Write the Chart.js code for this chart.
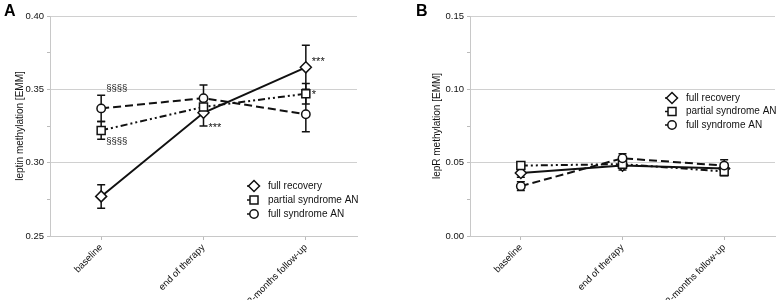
<!DOCTYPE html>
<html>
<head>
<title>Leptin / lepR methylation</title>
<script src="https://cdn.jsdelivr.net/npm/chart.js"></script>
<style>
    body { margin: 0; background: #fff; }
    .wrap { position: relative; width: 778px; height: 300px; }
    .panel { position: absolute; top: 0; width: 389px; height: 300px; }
    .tag { position: absolute; font: bold 16px "Liberation Sans", Arial, sans-serif; color: #000; }
</style>
</head>
<body>
<div class="wrap">
    <div class="panel" style="left:0"><canvas id="chartA"></canvas></div>
    <div class="panel" style="left:389px"><canvas id="chartB"></canvas></div>
    <div class="tag" style="left:4px;top:2px">A</div>
    <div class="tag" style="left:416px;top:2px">B</div>
</div>
<script>
    // time points
    const timepoints = ['baseline', 'end of therapy', '12-months follow-up'];
    const groups = ['full recovery', 'partial syndrome AN', 'full syndrome AN'];

    // panel A: leptin methylation (EMM) and error
    const leptinFull = [0.277, 0.334, 0.365];
    const leptinFullErr = [0.008, 0.009, 0.015];
    const leptinPartial = [0.322, 0.338, 0.347];
    const leptinPartialErr = [0.006, 0.004, 0.007];
    const leptinSyndrome = [0.337, 0.344, 0.333];
    const leptinSyndromeErr = [0.009, 0.009, 0.012];
    const leptinTicks = [0.25, 0.30, 0.35, 0.40];

    // panel B: lepR methylation (EMM) and error
    const leprFull = [0.043, 0.048, 0.046];
    const leprFullErr = [0.003, 0.003, 0.003];
    const leprPartial = [0.048, 0.049, 0.044];
    const leprPartialErr = [0.002, 0.002, 0.003];
    const leprSyndrome = [0.034, 0.053, 0.048];
    const leprSyndromeErr = [0.003, 0.003, 0.004];
    const leprTicks = [0.00, 0.05, 0.10, 0.15];

    // significance marks: [group index, time index, text, anchor]
    const leptinMarks = [
        [2, 0, '§§§§', 'top'],
        [1, 0, '§§§§', 'bottom'],
        [0, 1, '***', 'bottom'],
        [0, 2, '***', 'point'],
        [1, 2, '*', 'point']
    ];

    const FONT = '"Liberation Sans Narrow", "Liberation Sans", Arial, sans-serif';
    Chart.defaults.font.family = FONT;
    Chart.defaults.color = '#111';

    const styles = [
        { dash: [], shape: 'diamond' },
        { dash: [7, 3, 2, 3, 2, 3], shape: 'square' },
        { dash: [8, 4], shape: 'circle' }
    ];

    function marker(ctx, shape, x, y) {
        ctx.save();
        ctx.setLineDash([]);
        ctx.fillStyle = '#fff';
        ctx.strokeStyle = '#111';
        ctx.lineWidth = 1.5;
        ctx.beginPath();
        if (shape === 'diamond') {
            ctx.moveTo(x, y - 5.5); ctx.lineTo(x + 5.5, y); ctx.lineTo(x, y + 5.5); ctx.lineTo(x - 5.5, y); ctx.closePath();
        } else if (shape === 'square') {
            ctx.rect(x - 4, y - 4, 8, 8);
        } else {
            ctx.arc(x, y, 4.2, 0, Math.PI * 2);
        }
        ctx.fill();
        ctx.stroke();
        ctx.restore();
    }

    const extras = {
        id: 'extras',
        beforeDatasetsDraw(chart, args, opts) {
            const ctx = chart.ctx, xs = chart.scales.x, ys = chart.scales.y;
            ctx.save();
            ctx.strokeStyle = '#111';
            ctx.lineWidth = 1.5;
            chart.data.datasets.forEach((ds, i) => {
                ds.data.forEach((v, j) => {
                    const e = opts.errors[i][j];
                    const px = xs.getPixelForValue(j);
                    const top = ys.getPixelForValue(v + e);
                    const bot = ys.getPixelForValue(v - e);
                    ctx.beginPath();
                    ctx.moveTo(px, top); ctx.lineTo(px, bot);
                    ctx.moveTo(px - 4, top); ctx.lineTo(px + 4, top);
                    ctx.moveTo(px - 4, bot); ctx.lineTo(px + 4, bot);
                    ctx.stroke();
                });
            });
            ctx.restore();
        },
        afterDatasetsDraw(chart, args, opts) {
            const ctx = chart.ctx, xs = chart.scales.x, ys = chart.scales.y;
            const sets = chart.data.datasets;
            sets.forEach((ds, i) => {
                ds.data.forEach((v, j) => {
                    marker(ctx, styles[i].shape, xs.getPixelForValue(j), ys.getPixelForValue(v));
                });
            });

            ctx.save();
            ctx.fillStyle = '#111';
            ctx.textAlign = 'left';
            (opts.marks || []).forEach(([g, j, text, anchor]) => {
                const v = sets[g].data[j], e = opts.errors[g][j];
                const px = xs.getPixelForValue(j) + 5;
                ctx.font = (text[0] === '*' ? '11px "Liberation Sans", Arial' : '9.5px ' + FONT);
                if (anchor === 'top') {
                    ctx.textBaseline = 'bottom';
                    ctx.fillText(text, px, ys.getPixelForValue(v + e) - 2);
                } else if (anchor === 'bottom') {
                    ctx.textBaseline = 'middle';
                    ctx.fillText(text, px, ys.getPixelForValue(v - e) + 2);
                } else {
                    ctx.textBaseline = 'middle';
                    ctx.fillText(text, px + 1, ys.getPixelForValue(v) - (text.length > 1 ? 5 : -1));
                }
            });

            // legend inside plot
            const lg = opts.legend;
            ctx.font = '10px ' + FONT;
            ctx.textBaseline = 'middle';
            groups.forEach((name, i) => {
                const ly = lg.y + i * lg.gap;
                ctx.strokeStyle = '#111';
                ctx.lineWidth = 1.5;
                ctx.beginPath();
                ctx.moveTo(lg.x - 7, ly); ctx.lineTo(lg.x, ly);
                ctx.stroke();
                marker(ctx, styles[i].shape, lg.x, ly);
                ctx.fillStyle = '#111';
                ctx.fillText(name, lg.x + 14, ly);
            });
            ctx.restore();
        }
    };

    function isMajor(v, ticks) {
        return ticks.some(t => Math.abs(t - v) < 1e-6);
    }

    function makeChart(id, values, errors, ticks, title, marks, legend, pad, axisW) {
        return new Chart(document.getElementById(id), {
            type: 'line',
            data: {
                labels: timepoints,
                datasets: values.map((vals, i) => ({
                    label: groups[i],
                    data: vals,
                    borderColor: '#111',
                    borderWidth: 2,
                    borderDash: styles[i].dash,
                    pointRadius: 0,
                    fill: false,
                    tension: 0
                }))
            },
            options: {
                responsive: true,
                maintainAspectRatio: false,
                animation: false,
                layout: { padding: pad },
                plugins: {
                    legend: { display: false },
                    tooltip: { enabled: false },
                    extras: { errors: errors, marks: marks, legend: legend }
                },
                scales: {
                    x: {
                        offset: true,
                        grid: { color: 'rgba(0,0,0,0)', tickColor: '#bbb', tickLength: 4 },
                        border: { color: '#c8c8c8' },
                        ticks: { maxRotation: 45, minRotation: 45, font: { size: 9.5 }, color: '#111', padding: 2 },
                        afterFit: s => { s.height = 64; }
                    },
                    y: {
                        min: ticks[0],
                        max: ticks[ticks.length - 1],
                        ticks: {
                            stepSize: 0.025,
                            font: { size: 9.5 },
                            color: '#111',
                            padding: 3,
                            callback: v => isMajor(v, ticks) ? v.toFixed(2) : ''
                        },
                        grid: {
                            color: c => isMajor(c.tick.value, ticks) ? '#d0d0d0' : 'rgba(0,0,0,0)',
                            tickColor: '#bbb',
                            tickLength: 3
                        },
                        border: { color: '#c8c8c8' },
                        title: { display: true, text: title, font: { size: 10 }, color: '#111', padding: 4 },
                        afterFit: s => { s.width = axisW; }
                    }
                }
            },
            plugins: [extras]
        });
    }

    makeChart('chartA',
        [leptinFull, leptinPartial, leptinSyndrome],
        [leptinFullErr, leptinPartialErr, leptinSyndromeErr],
        leptinTicks, 'leptin methylation [EMM]', leptinMarks,
        { x: 254, y: 186, gap: 14 },
        { left: 10, right: 32, top: 16, bottom: 0 }, 40);

    makeChart('chartB',
        [leprFull, leprPartial, leprSyndrome],
        [leprFullErr, leprPartialErr, leprSyndromeErr],
        leprTicks, 'lepR methylation [EMM]', [],
        { x: 283, y: 98, gap: 13.5 },
        { left: 38, right: 3, top: 16, bottom: 0 }, 43);
</script>
</body>
</html>
